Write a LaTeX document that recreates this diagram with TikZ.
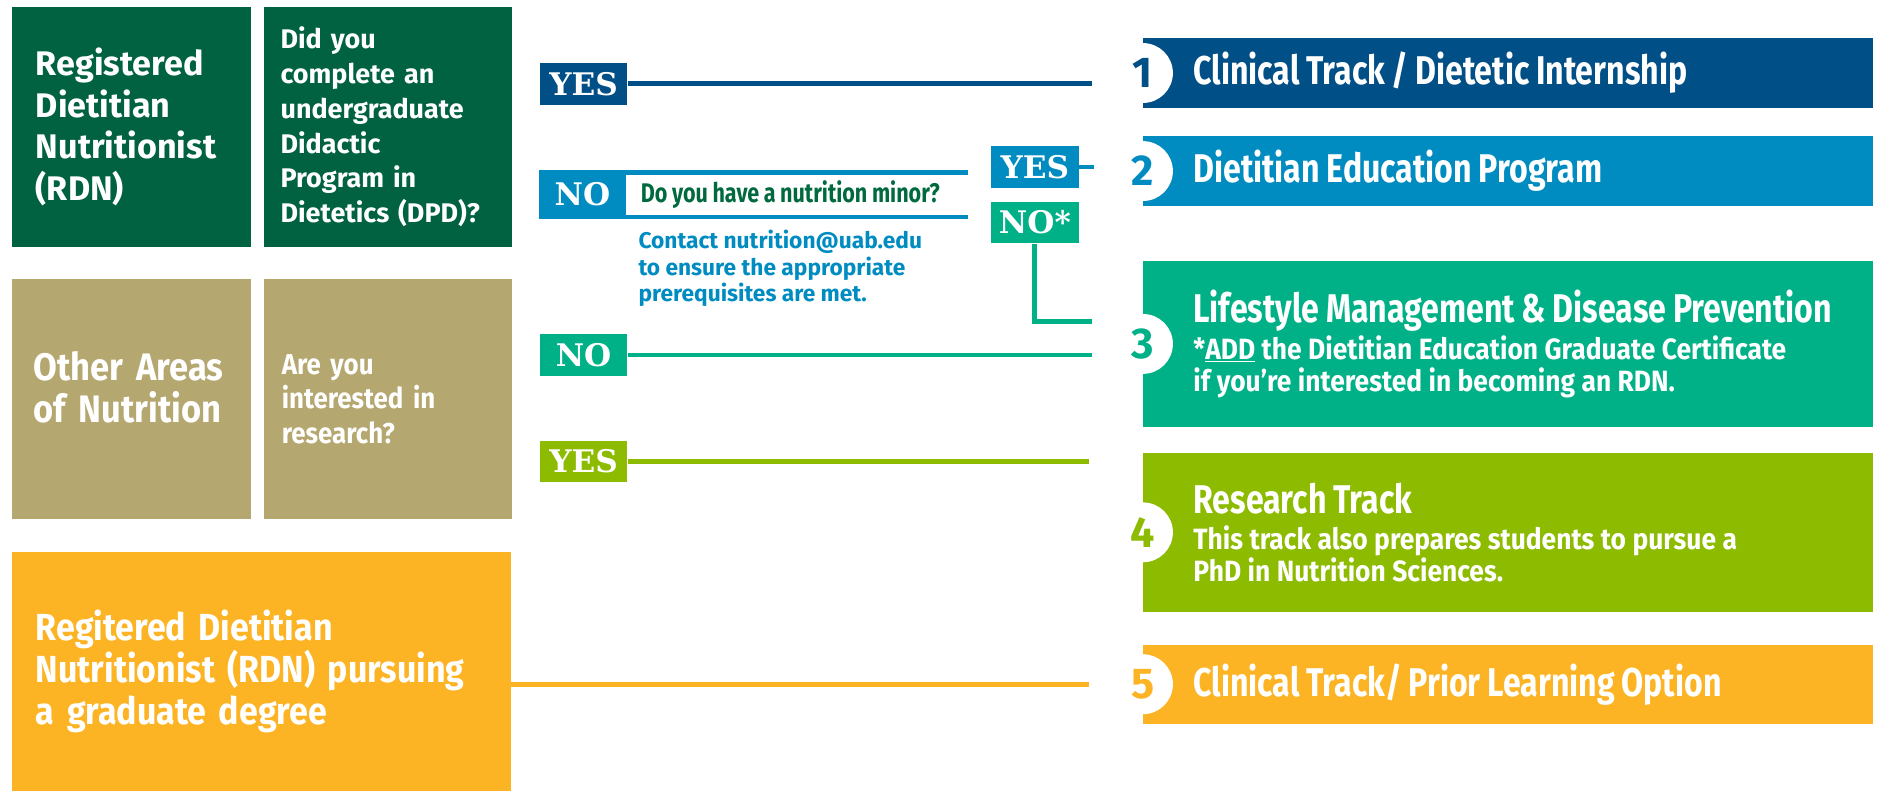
\documentclass[tikz,border=0pt]{standalone}
\usepackage{fontspec}
\setmainfont{Fira Sans}
\newfontfamily\condfont{Fira Sans}[FakeStretch=0.8]
\newfontfamily\semicondfont{Fira Sans}[FakeStretch=0.9]
\newfontfamily\slabfont{DejaVu Serif}
\usepackage{tikz}
\usetikzlibrary{positioning}
\newcommand{\tightspace}{\spaceskip=0.17em plus 0.05em minus 0.03em\relax}
\newcommand{\subfont}{\semicondfont\fontsize{24.5}{27}\selectfont\spaceskip=0.22em plus 0.05em minus 0.03em\relax}
\definecolor{rdngreen}{RGB}{0,98,65}
\definecolor{khaki}{RGB}{181,167,112}
\definecolor{gradorange}{RGB}{253,180,36}
\definecolor{navy}{RGB}{0,79,134}
\definecolor{dpdblue}{RGB}{0,140,193}
\definecolor{trackteal}{RGB}{0,177,136}
\definecolor{tracklime}{RGB}{140,187,0}
\definecolor{qgreen}{RGB}{0,105,62}
\tikzstyle{leftbox} = [rectangle, 
inner xsep=20pt, 
inner ysep=0pt, 
align=left, 
text=white]
\tikzstyle{answer} = [rectangle, 
minimum width=73pt, 
minimum height=35pt, 
inner sep=0pt, 
text=white, 
font=\slabfont\bfseries\fontsize{26}{26}\selectfont]
\tikzstyle{track} = [rectangle, 
minimum width=610pt, 
inner xsep=0pt, 
inner ysep=0pt, 
text width=610pt, 
align=left, 
execute at begin node={\leftskip=42pt\tightspace}, 
text=white, 
font=\condfont\bfseries\fontsize{33.5}{36}\selectfont]
\tikzstyle{num} = [circle, fill=white, minimum size=50pt, inner sep=0pt, 
font=\bfseries\fontsize{36}{36}\selectfont]
\tikzstyle{link} = [line width=4pt]

\begin{document}
\begin{tikzpicture}[x=1pt, y=-1pt]
\useasboundingbox (0,0) rectangle (1568,660);

\node (rdn) [leftbox, fill=rdngreen, minimum width=200pt, minimum height=200pt, text width=160pt, 
font=\bfseries\fontsize{28.5}{35}\selectfont] at (110,106) {Registered\\Dietitian\\Nutritionist\\(RDN)};

\node (dpd) [leftbox, fill=rdngreen, right=10pt of rdn, minimum width=207pt, minimum height=200pt, inner xsep=14pt, text width=179pt, 
font=\bfseries\fontsize{22.5}{29}\selectfont] {Did you\\complete an\\undergraduate\\Didactic\\Program in\\Dietetics (DPD)?};

\node (other) [leftbox, fill=khaki, below=27pt of rdn, minimum width=200pt, minimum height=200pt, inner xsep=18pt, text width=164pt, 
font=\semicondfont\bfseries\fontsize{32}{35}\selectfont] {Other Areas\\of Nutrition\par\vspace*{20pt}};

\node (research) [leftbox, fill=khaki, right=10pt of other, minimum width=207pt, minimum height=200pt, inner xsep=15pt, text width=177pt, 
font=\semicondfont\bfseries\fontsize{24}{29}\selectfont] {Are you\\interested in\\research?};

\node (grad) [leftbox, fill=gradorange, below=27pt of other.south west, anchor=north west, minimum width=417pt, minimum height=200pt, text width=377pt, 
font=\semicondfont\bfseries\fontsize{31.5}{35}\selectfont] {Regitered Dietitian\\Nutritionist (RDN) pursuing\\a graduate degree};

\node (track1) [track, fill=navy, minimum height=58pt] at (1260,61) {Clinical Track / Dietetic Internship};
\node (track2) [track, fill=dpdblue, minimum height=59pt, below=23pt of track1] {Dietitian Education Program};
\node (track3) [track, fill=trackteal, minimum height=139pt, below=45pt of track2] {Lifestyle Management \& Disease Prevention\par\vspace{3pt}
\subfont *\underline{ADD} the Dietitian Education Graduate Certificate\\if you’re interested in becoming an RDN.\par};
\node (track4) [track, fill=tracklime, minimum height=133pt, below=21pt of track3] {Research Track\par\vspace{3pt}
\subfont This track also prepares students to pursue a\\PhD in Nutrition Sciences.\par};
\node (track5) [track, fill=gradorange, minimum height=66pt, below=27pt of track4] {Clinical Track/ Prior Learning Option};

\node (num1) [num, text=navy] at (track1.west) {1};
\node (num2) [num, text=dpdblue] at (track2.west) {2};
\node (num3) [num, text=trackteal] at (track3.west) {3};
\node (num4) [num, text=tracklime] at (track4.west) {4};
\node (num5) [num, text=gradorange] at (track5.west) {5};

\node (yes1) [answer, fill=navy] at (487.5,70) {YES};
\node (nomin) [answer, fill=dpdblue, minimum height=41pt] at (486.5,162.5) {NO};
\node (minq) [rectangle, right=0pt of nomin, minimum width=285pt, minimum height=41pt, inner xsep=0pt, text width=285pt, align=left, 
execute at begin node={\leftskip=12pt\tightspace}, text=qgreen, font=\condfont\bfseries\fontsize{22.5}{26}\selectfont] {Do you have a nutrition minor?};
\node (contact) [below right=9pt and 10pt of nomin.south east, inner sep=0pt, align=left, text=dpdblue, 
font=\bfseries\fontsize{19}{22}\selectfont] {Contact nutrition@uab.edu\\to ensure the appropriate\\prerequisites are met.};
\node (yes2) [answer, fill=dpdblue] at (864.5,139.5) {YES};
\node (nostar) [answer, fill=trackteal, below=11pt of yes2] {NO*};
\node (nogreen) [answer, fill=trackteal] at (487.5,296.5) {NO};
\node (yesres) [answer, fill=tracklime] at (487.5,385.5) {YES};

\draw [link, dpdblue] ([yshift=-2pt]nomin.north east) -- ([yshift=-2pt]nomin.north east -| minq.east);
\draw [link, dpdblue] ([yshift=2pt]nomin.south east) -- ([yshift=2pt]nomin.south east -| minq.east);

\draw [link, navy, shorten >=17pt] (yes1) -- (yes1 -| num1.west);
\draw [link, dpdblue, shorten >=16pt] (yes2) -- (yes2 -| num2.west);
\draw [link, trackteal, shorten >=17pt] (nostar) |- ([yshift=19pt]num3.west);
\draw [link, trackteal, shorten >=17pt] (nogreen) -- (nogreen -| num3.west);
\draw [link, tracklime, shorten >=20pt] (yesres) -- (yesres -| num4.west);
\draw [link, gradorange, shorten >=20pt] (grad.east |- num5.west) -- (num5.west);

\end{tikzpicture}
\end{document}
